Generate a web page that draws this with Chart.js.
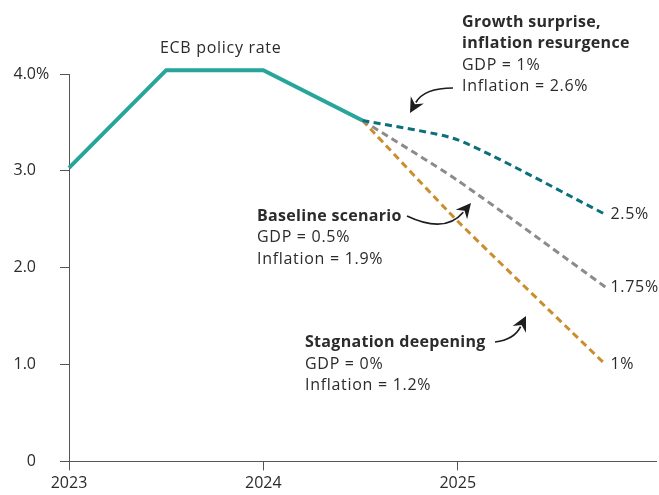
<!DOCTYPE html>
<html>
<head>
<meta charset="utf-8">
<script src="https://cdn.jsdelivr.net/npm/chart.js@4/dist/chart.umd.min.js"></script>
<style>
html,body{margin:0;padding:0;background:#fff;}
#wrap{width:659px;height:495px;}
</style>
</head>
<body>
<div id="wrap"><canvas id="c" width="659" height="495"></canvas></div>
<script>
// ---- data ----
const policyX = [2023.0, 2023.5, 2024.0, 2024.51];
const policyRate = [3.03, 4.04, 4.04, 3.52];
const scenarioX = [2024.51, 2025.0, 2025.76];
const growthSurprise = [3.52, 3.32, 2.55];
const baselineScenario = [3.52, 2.90, 1.80];
const stagnationDeepening = [3.52, 2.48, 1.00];
const endLabels = ['2.5%', '1.75%', '1%'];
const xTicks = [2023, 2024, 2025];
const yTicks = [0, 1, 2, 3, 4];
const yTickLabels = ['0', '1.0', '2.0', '3.0', '4.0'];

const FONT = '"Open Sans", Lato, sans-serif';
const TXT = '#2b2b2b';
const AXIS = '#555555';

const toXY = (xs, ys) => xs.map((x, i) => ({x: x, y: ys[i]}));

function arrow(ctx, p0, c, p2) {
  ctx.save();
  ctx.strokeStyle = '#1e1e1e';
  ctx.fillStyle = '#1e1e1e';
  ctx.lineWidth = 1.7;
  const ang = Math.atan2(p2[1] - c[1], p2[0] - c[0]);
  const L = 15, W = 7.5;
  const ex = p2[0] - Math.cos(ang) * (L - 3), ey = p2[1] - Math.sin(ang) * (L - 3);
  ctx.beginPath();
  ctx.moveTo(p0[0], p0[1]);
  ctx.quadraticCurveTo(c[0], c[1], ex, ey);
  ctx.stroke();
  const bx = p2[0] - Math.cos(ang) * L, by = p2[1] - Math.sin(ang) * L;
  ctx.beginPath();
  ctx.moveTo(p2[0], p2[1]);
  ctx.lineTo(bx + Math.sin(ang) * W, by - Math.cos(ang) * W);
  ctx.lineTo(p2[0] - Math.cos(ang) * (L - 5), p2[1] - Math.sin(ang) * (L - 5));
  ctx.lineTo(bx - Math.sin(ang) * W, by + Math.cos(ang) * W);
  ctx.closePath();
  ctx.fill();
  ctx.restore();
}

function setFont(ctx, bold) {
  ctx.font = (bold ? 'bold ' : '') + '16px ' + FONT;
  ctx.letterSpacing = bold ? '0.3px' : '0.7px';
}

function textBlock(ctx, x, y, lines, lh) {
  lines.forEach((ln, i) => {
    setFont(ctx, !!ln.b);
    ctx.fillText(ln.t, x, y + i * lh);
  });
}

const annotPlugin = {
  id: 'annot',
  afterDraw(chart) {
    const ctx = chart.ctx;
    const xs = chart.scales.x, ys = chart.scales.y;
    ctx.save();
    ctx.fillStyle = TXT;
    ctx.textAlign = 'left';
    ctx.font = '16px ' + FONT;
    ctx.textBaseline = 'middle';
    ctx.fillText('%', 36, ys.getPixelForValue(4) + 0.5);
    setFont(ctx, false);
    const ends = [growthSurprise, baselineScenario, stagnationDeepening];
    ends.forEach((s, i) => {
      const px = xs.getPixelForValue(scenarioX[scenarioX.length - 1]) + 5;
      const py = ys.getPixelForValue(s[s.length - 1]);
      ctx.fillText(endLabels[i], px, py);
    });
    ctx.textBaseline = 'alphabetic';
    setFont(ctx, false);
    ctx.fillText('ECB policy rate', 160, 53);
    textBlock(ctx, 462, 27, [
      {t: 'Growth surprise,', b: true},
      {t: 'inflation resurgence', b: true},
      {t: 'GDP = 1%'},
      {t: 'Inflation = 2.6%'}
    ], 21.4);
    textBlock(ctx, 257, 221, [
      {t: 'Baseline scenario', b: true},
      {t: 'GDP = 0.5%'},
      {t: 'Inflation = 1.9%'}
    ], 21.3);
    textBlock(ctx, 305, 347, [
      {t: 'Stagnation deepening', b: true},
      {t: 'GDP = 0%'},
      {t: 'Inflation = 1.2%'}
    ], 21.6);
    ctx.restore();
    arrow(ctx, [453, 88], [424, 88], [410, 113]);
    arrow(ctx, [407, 216], [445, 234], [471, 203]);
    arrow(ctx, [495, 342], [514, 340], [526, 316]);
  }
};

new Chart(document.getElementById('c'), {
  type: 'line',
  data: {
    datasets: [
      {
        label: 'Growth surprise, inflation resurgence',
        data: toXY(scenarioX, growthSurprise),
        borderColor: '#0b6f7c', borderWidth: 3, borderDash: [7, 4.5],
        pointRadius: 0, tension: 0.2, fill: false, clip: false
      },
      {
        label: 'Baseline scenario',
        data: toXY(scenarioX, baselineScenario),
        borderColor: '#8b8b8b', borderWidth: 3, borderDash: [7, 4.5],
        pointRadius: 0, tension: 0.25, fill: false, clip: false
      },
      {
        label: 'Stagnation deepening',
        data: toXY(scenarioX, stagnationDeepening),
        borderColor: '#c98f2e', borderWidth: 3, borderDash: [7, 4.5],
        pointRadius: 0, tension: 0.2, fill: false, clip: false
      },
      {
        label: 'ECB policy rate',
        data: toXY(policyX, policyRate),
        borderColor: '#27a59b', borderWidth: 4,
        pointRadius: 0, tension: 0, fill: false, clip: false,
        borderJoinStyle: 'miter'
      }
    ]
  },
  options: {
    responsive: false,
    devicePixelRatio: 1,
    animation: false,
    layout: {padding: {top: 74, right: 3, bottom: 0, left: 0}},
    plugins: {legend: {display: false}, tooltip: {enabled: false}},
    scales: {
      x: {
        type: 'linear', min: 2023, max: 2026.02,
        afterBuildTicks: s => { s.ticks = xTicks.map(v => ({value: v})); },
        afterFit: s => { s.height = 31; },
        grid: {drawOnChartArea: false, drawTicks: true, tickLength: 9, color: AXIS, lineWidth: 1},
        border: {color: AXIS, width: 1},
        ticks: {color: TXT, font: {family: FONT, size: 16}, padding: 3, maxRotation: 0,
                callback: v => String(v)}
      },
      y: {
        min: 0, max: 4,
        afterBuildTicks: s => { s.ticks = yTicks.map(v => ({value: v})); },
        afterFit: s => { s.width = 69; },
        grid: {drawOnChartArea: false, drawTicks: true, tickLength: 9, color: AXIS, lineWidth: 1},
        border: {color: AXIS, width: 1},
        ticks: {color: TXT, font: {family: FONT, size: 16}, padding: 24,
                callback: v => yTickLabels[yTicks.indexOf(v)]}
      }
    }
  },
  plugins: [annotPlugin]
});
</script>
</body>
</html>
